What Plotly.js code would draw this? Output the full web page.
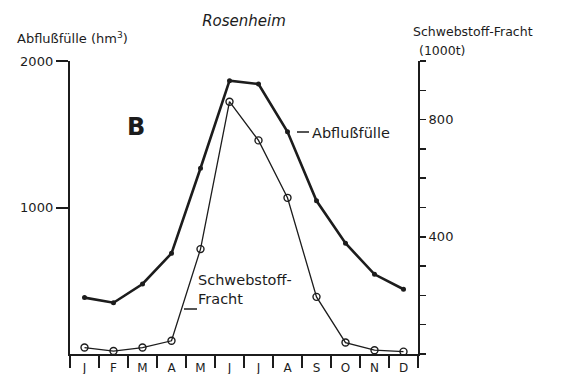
<!DOCTYPE html>
<html>
<head>
<meta charset="utf-8">
<script src="https://cdn.plot.ly/plotly-3.0.1.min.js"></script>
<style>
  html, body { margin: 0; padding: 0; background: #fff; }
  #chart { width: 564px; height: 374px; }
</style>
</head>
<body>
<div id="chart"></div>
<script>
// Monthly runoff volume and suspended-sediment load, gauge Rosenheim
const months = ['J', 'F', 'M', 'A', 'M', 'J', 'J', 'A', 'S', 'O', 'N', 'D'];
// Abflußfülle in hm³ (left axis)
const abflussfuelle = [385, 350, 478, 687, 1268, 1866, 1843, 1517, 1046, 756, 544, 442];
// Schwebstoff-Fracht in 1000 t (right axis)
const schwebstofffracht = [22, 10, 22, 45, 358, 861, 729, 533, 195, 39, 13, 8];
// Labelled axis ticks
const leftTicks = [1000, 2000];
const rightTicks = [400, 800];

const ink = '#1c1c1c';
const font = 'DejaVu Sans, sans-serif';
const monthIdx = months.map((m, i) => i);

const traces = [
  {
    x: monthIdx, y: abflussfuelle, yaxis: 'y',
    mode: 'lines+markers', cliponaxis: false,
    line: { color: ink, width: 2.6 },
    marker: { color: ink, size: 5 },
    hoverinfo: 'skip'
  },
  {
    x: monthIdx, y: schwebstofffracht, yaxis: 'y2',
    mode: 'lines+markers', cliponaxis: false,
    line: { color: ink, width: 1.3 },
    marker: { symbol: 'circle-open', color: ink, size: 7, line: { width: 1.4, color: ink } },
    hoverinfo: 'skip'
  }
];

// helpers for placing text in the plot-area frame
const px = v => (v - 70) / 348;
const py = v => (354 - v) / 293;

const layout = {
  width: 564, height: 374,
  margin: { l: 70, r: 146, t: 61, b: 20 },
  paper_bgcolor: '#fff', plot_bgcolor: '#fff',
  showlegend: false,
  font: { family: font, color: ink, size: 13 },
  title: {
    text: 'Rosenheim',
    x: 244 / 564, xanchor: 'center', xref: 'container',
    y: 1 - 21 / 374, yanchor: 'middle', yref: 'container',
    font: { family: font, size: 15, style: 'italic', color: ink }
  },
  xaxis: {
    range: [-0.5, 11.5],
    tickmode: 'array', tickvals: monthIdx, ticktext: months,
    ticks: '', showgrid: false, zeroline: false,
    showline: true, linecolor: ink, linewidth: 2,
    tickfont: { size: 12, color: ink, family: font },
    ticklabelstandoff: 2,
    minor: { tick0: -0.5, dtick: 1, ticks: 'outside', ticklen: 12, tickwidth: 1.5, tickcolor: ink, showgrid: false }
  },
  yaxis: {
    range: [0, 2000],
    tickmode: 'array', tickvals: leftTicks,
    ticks: 'outside', ticklen: 12, tickwidth: 2, tickcolor: ink,
    showline: true, linecolor: ink, linewidth: 2.2,
    showgrid: false, zeroline: false,
    tickfont: { size: 13, color: ink, family: font }
  },
  yaxis2: {
    range: [0, 1000], overlaying: 'y', side: 'right',
    tickmode: 'array', tickvals: rightTicks,
    ticks: 'outside', ticklen: 6, tickwidth: 1.5, tickcolor: ink,
    showline: true, linecolor: ink, linewidth: 2,
    showgrid: false, zeroline: false,
    tickfont: { size: 13, color: ink, family: font },
    minor: { tickmode: 'linear', tick0: 0, dtick: 100, ticks: 'outside', ticklen: 6, tickwidth: 1.5, tickcolor: ink, showgrid: false }
  },
  annotations: [
    { text: 'Abflußfülle (hm<sup>3</sup>)', xref: 'paper', yref: 'paper', x: px(15), y: py(38),
      xanchor: 'left', yanchor: 'middle', showarrow: false, font: { size: 13 } },
    { text: 'Schwebstoff-Fracht', xref: 'paper', yref: 'paper', x: px(411), y: py(31),
      xanchor: 'left', yanchor: 'middle', showarrow: false, font: { size: 12.5 } },
    { text: '(1000t)', xref: 'paper', yref: 'paper', x: px(417), y: py(51),
      xanchor: 'left', yanchor: 'middle', showarrow: false, font: { size: 12.5 } },
    { text: '<b>B</b>', xref: 'paper', yref: 'paper', x: px(136), y: py(127),
      xanchor: 'center', yanchor: 'middle', showarrow: false, font: { size: 24 } },
    { text: 'Abflußfülle', xref: 'paper', yref: 'paper', x: px(310), y: py(133),
      xanchor: 'left', yanchor: 'middle', showarrow: false, font: { size: 14.5 } },
    { text: 'Schwebstoff-<br>Fracht', xref: 'paper', yref: 'paper', x: px(196), y: py(289),
      xanchor: 'left', yanchor: 'middle', align: 'left', showarrow: false, font: { size: 14.5 } }
  ],
  shapes: [
    { type: 'line', xref: 'paper', yref: 'paper', x0: px(297), x1: px(309), y0: py(132), y1: py(132),
      line: { color: ink, width: 1.5 } },
    { type: 'line', xref: 'paper', yref: 'paper', x0: px(184), x1: px(197), y0: py(309), y1: py(309),
      line: { color: ink, width: 1.5 } }
  ]
};

Plotly.newPlot('chart', traces, layout, { staticPlot: true, displayModeBar: false });
</script>
</body>
</html>
